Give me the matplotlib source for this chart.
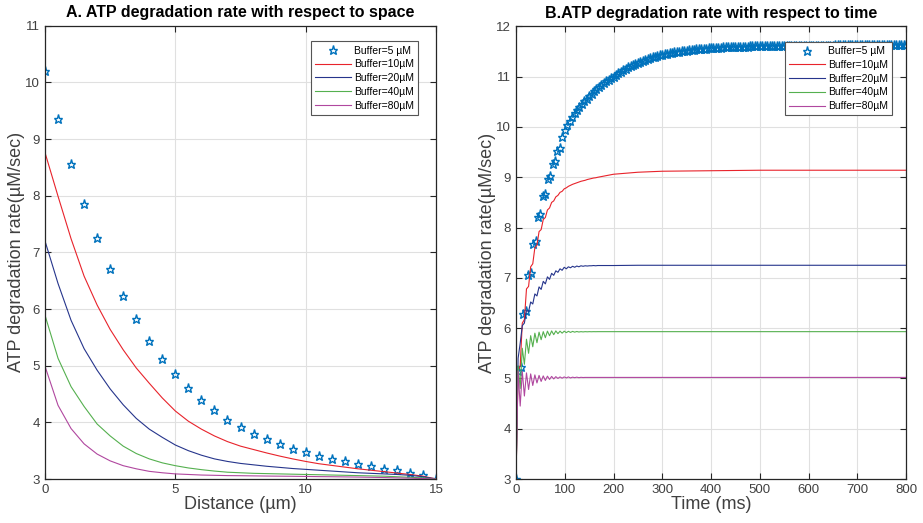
import numpy as np
import matplotlib
matplotlib.use("Agg")
import matplotlib.pyplot as plt

plt.rcParams["font.family"] = ["Liberation Sans", "DejaVu Sans"]

# ---- panel A: rate vs distance, sampled every 0.5 um ----
distance = np.arange(0, 15.01, 0.5)
space_buf5 = [10.20, 9.35, 8.56, 7.86, 7.25, 6.70, 6.23, 5.82, 5.44, 5.12, 4.85,
              4.61, 4.40, 4.22, 4.05, 3.92, 3.80, 3.71, 3.62, 3.53, 3.47, 3.41,
              3.35, 3.31, 3.26, 3.23, 3.18, 3.16, 3.11, 3.07, 3.00]
space_buf10 = [8.76, 7.99, 7.24, 6.58, 6.07, 5.64, 5.28, 4.96, 4.69, 4.43, 4.20,
               4.02, 3.88, 3.76, 3.66, 3.58, 3.52, 3.46, 3.405, 3.355, 3.31, 3.27,
               3.24, 3.21, 3.18, 3.155, 3.13, 3.105, 3.08, 3.05, 3.00]
space_buf20 = [7.20, 6.45, 5.80, 5.30, 4.92, 4.59, 4.31, 4.07, 3.88, 3.735, 3.60,
               3.50, 3.42, 3.355, 3.31, 3.275, 3.25, 3.225, 3.205, 3.185, 3.17,
               3.155, 3.14, 3.125, 3.11, 3.10, 3.09, 3.08, 3.065, 3.04, 3.00]
space_buf40 = [5.89, 5.13, 4.63, 4.28, 3.97, 3.76, 3.58, 3.45, 3.355, 3.285, 3.235,
               3.195, 3.165, 3.14, 3.12, 3.11, 3.10, 3.095, 3.09, 3.085, 3.08,
               3.075, 3.07, 3.065, 3.06, 3.055, 3.05, 3.04, 3.03, 3.02, 3.00]
space_buf80 = [4.99, 4.30, 3.89, 3.62, 3.44, 3.32, 3.235, 3.18, 3.135, 3.11, 3.09,
               3.08, 3.07, 3.065, 3.06, 3.058, 3.055, 3.052, 3.05, 3.048, 3.045,
               3.042, 3.04, 3.037, 3.034, 3.03, 3.026, 3.02, 3.015, 3.008, 3.00]

# ---- panel B: rate vs time ----
# 5 uM buffer is stored every 5 ms
time_star = np.arange(0, 801, 5)
time_buf5 = [3.00, 5.15, 5.22, 6.28, 6.35, 7.05, 7.10, 7.68, 7.74, 8.20,
             8.26, 8.62, 8.67, 8.97, 9.02, 9.27, 9.32, 9.53, 9.58, 9.80,
             9.93, 10.03, 10.12, 10.20, 10.27, 10.34, 10.40, 10.46, 10.51, 10.56,
             10.61, 10.66, 10.71, 10.75, 10.79, 10.83, 10.87, 10.91, 10.94, 10.97,
             11.00, 11.04, 11.07, 11.10, 11.13, 11.16, 11.19, 11.22, 11.24, 11.26,
             11.28, 11.30, 11.32, 11.34, 11.36, 11.37, 11.39, 11.40, 11.42, 11.43,
             11.44, 11.45, 11.46, 11.47, 11.48, 11.49, 11.50, 11.50, 11.51, 11.52,
             11.52, 11.53, 11.54, 11.54, 11.55, 11.55, 11.56, 11.56, 11.56, 11.57,
             11.57, 11.58, 11.58, 11.58, 11.58, 11.59, 11.59, 11.59, 11.59, 11.59,
             11.60, 11.60, 11.60, 11.60, 11.60, 11.60, 11.61, 11.61, 11.61, 11.61,
             11.61, 11.61, 11.61, 11.61, 11.61, 11.61, 11.61, 11.61, 11.61, 11.61,
             11.61, 11.62, 11.62, 11.62, 11.62, 11.62, 11.62, 11.62, 11.62, 11.62,
             11.62, 11.62, 11.62, 11.62, 11.62, 11.62, 11.62, 11.62, 11.62, 11.62,
             11.62, 11.63, 11.63, 11.63, 11.63, 11.63, 11.63, 11.63, 11.63, 11.63,
             11.63, 11.63, 11.63, 11.63, 11.63, 11.63, 11.63, 11.63, 11.63, 11.63,
             11.63, 11.63, 11.63, 11.63, 11.63, 11.63, 11.63, 11.63, 11.63, 11.63,
             11.63]

# other buffers: fine 4.3 ms steps through the transient, coarse afterwards
time_fast = np.arange(0, 170, 4.3)
time_slow = [200, 250, 300, 400, 500, 600, 700, 800]
time_line = np.concatenate([time_fast, time_slow])
time_buf10 = [3.00, 5.15, 5.25, 6.10, 6.17, 6.78, 6.83, 7.22, 7.28, 7.60,
              7.65, 7.92, 7.96, 8.16, 8.20, 8.35, 8.39, 8.50, 8.53, 8.61,
              8.64, 8.70, 8.72, 8.77, 8.79, 8.82, 8.84, 8.86, 8.875, 8.89,
              8.905, 8.92, 8.93, 8.94, 8.955, 8.965, 8.975, 8.985, 8.99, 9.00,
              9.06, 9.10, 9.12, 9.13, 9.14, 9.14, 9.14, 9.14]
time_buf20 = [3.00, 5.40, 5.70, 6.05, 6.10, 6.35, 6.33, 6.52, 6.48, 6.68,
              6.64, 6.82, 6.77, 6.93, 6.88, 7.02, 6.97, 7.09, 7.05, 7.14,
              7.11, 7.18, 7.15, 7.21, 7.18, 7.22, 7.20, 7.23, 7.21, 7.235,
              7.22, 7.24, 7.23, 7.24, 7.235, 7.24, 7.24, 7.245, 7.24, 7.245,
              7.245, 7.25, 7.25, 7.25, 7.25, 7.25, 7.25, 7.25]
time_buf40 = [3.00, 5.25, 4.80, 5.60, 5.28, 5.78, 5.50, 5.85, 5.63, 5.90,
              5.71, 5.92, 5.77, 5.93, 5.81, 5.94, 5.85, 5.945, 5.87, 5.945,
              5.89, 5.94, 5.90, 5.94, 5.91, 5.937, 5.915, 5.935, 5.92, 5.933,
              5.923, 5.93, 5.925, 5.93, 5.927, 5.93, 5.928, 5.93, 5.929, 5.93,
              5.93, 5.93, 5.93, 5.93, 5.93, 5.93, 5.93, 5.93]
time_buf80 = [3.00, 5.15, 4.45, 5.14, 4.65, 5.11, 4.78, 5.09, 4.86, 5.07,
              4.91, 5.06, 4.94, 5.05, 4.96, 5.045, 4.98, 5.04, 4.99, 5.035,
              5.00, 5.03, 5.005, 5.03, 5.01, 5.03, 5.01, 5.025, 5.015, 5.025,
              5.015, 5.022, 5.018, 5.02, 5.02, 5.02, 5.02, 5.02, 5.02, 5.02,
              5.02, 5.02, 5.02, 5.02, 5.02, 5.02, 5.02, 5.02]

labels = ["Buffer=5 \u00b5M", "Buffer=10\u00b5M", "Buffer=20\u00b5M",
          "Buffer=40\u00b5M", "Buffer=80\u00b5M"]
star_color = "#0072BD"
line_colors = ["#e8232b", "#26358c", "#55b04f", "#b0479f"]
axis_color = "#262626"


def style_axes(ax):
    for sp in ax.spines.values():
        sp.set_color(axis_color)
        sp.set_linewidth(0.9)
    ax.tick_params(direction="in", length=4, width=0.8, colors=axis_color,
                   labelcolor="#404040", labelsize=9.5, top=True, right=True)
    ax.grid(True, color="#e0e0e0", linewidth=0.8)
    ax.set_axisbelow(True)


def draw_legend(ax, anchor):
    leg = ax.legend(labels, loc="upper right", bbox_to_anchor=anchor,
                    fontsize=7.5, handlelength=3.4, handletextpad=0.3,
                    labelspacing=0.36, borderpad=0.4, fancybox=False,
                    framealpha=1, edgecolor="#555555")
    leg.get_frame().set_linewidth(0.8)


fig = plt.figure(figsize=(9.23, 5.23), dpi=100)
W, H = 923, 523

# A. space
ax1 = fig.add_axes([45 / W, (H - 479) / H, 391 / W, 453.3 / H])
ax1.plot(distance, space_buf5, linestyle="none", marker="*", ms=6.5,
         mfc="none", mec=star_color, mew=1.0)
for vals, c in zip([space_buf10, space_buf20, space_buf40, space_buf80],
                   line_colors):
    ax1.plot(distance, vals, color=c, lw=0.8)
ax1.set_xlim(0, 15)
ax1.set_ylim(3, 11)
ax1.set_xticks([0, 5, 10, 15])
ax1.set_yticks(range(3, 12))
style_axes(ax1)
ax1.set_xlabel("Distance (\u00b5m)", fontsize=13, color="#404040", labelpad=0)
ax1.set_ylabel("ATP degradation rate(\u00b5M/sec)", fontsize=13,
               color="#404040", labelpad=0)
ax1.set_title("A. ATP degradation rate with respect to space", fontsize=11.5,
              fontweight="bold", pad=6)
draw_legend(ax1, (0.967, 0.977))

# B. time
ax2 = fig.add_axes([516 / W, (H - 479) / H, 390 / W, 452.6 / H])
ax2.plot(time_star, time_buf5, linestyle="none", marker="*", ms=6.5,
         mfc="none", mec=star_color, mew=1.0)
for vals, c in zip([time_buf10, time_buf20, time_buf40, time_buf80],
                   line_colors):
    ax2.plot(time_line, vals, color=c, lw=0.8)
ax2.set_xlim(0, 800)
ax2.set_ylim(3, 12)
ax2.set_xticks(range(0, 801, 100))
ax2.set_yticks(range(3, 13))
style_axes(ax2)
ax2.set_xlabel("Time (ms)", fontsize=13, color="#404040", labelpad=0)
ax2.set_ylabel("ATP degradation rate(\u00b5M/sec)", fontsize=13,
               color="#404040", labelpad=0)
ax2.set_title("B.ATP degradation rate with respect to time", fontsize=11.5,
              fontweight="bold", pad=6)
draw_legend(ax2, (0.977, 0.977))

fig.savefig("out.png", dpi=100)
